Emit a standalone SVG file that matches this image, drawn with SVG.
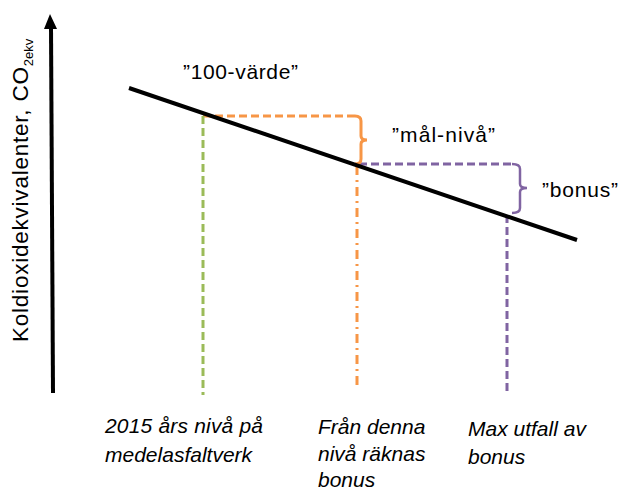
<svg xmlns="http://www.w3.org/2000/svg" width="622" height="492" viewBox="0 0 622 492">
<style>
.t{font-family:"Liberation Sans",Arial,sans-serif;font-size:21px;fill:#000}
.i{font-style:italic}
.g{stroke:#9BBB59;stroke-width:3;fill:none;stroke-dasharray:8 4}
.o{stroke:#F79646;stroke-width:3;fill:none;stroke-dasharray:8 4}
.od{stroke:#F79646;stroke-width:3;fill:none;stroke-dasharray:9 5 2 5}
.p{stroke:#8064A2;stroke-width:3;fill:none;stroke-dasharray:8 4}
.ob{stroke:#F79646;stroke-width:3;fill:none}
.pb{stroke:#8064A2;stroke-width:2.5;fill:none}
</style>
<rect width="622" height="492" fill="#fff"/>
<g id="axis">
<line x1="53" y1="393" x2="51" y2="26" stroke="#000" stroke-width="4"/>
<polygon points="44,29 57,29 50,14" fill="#000"/>
<text class="t" transform="translate(28,342) rotate(-90)"><tspan font-size="22.5" textLength="275" lengthAdjust="spacing">Koldioxidekvivalenter, CO</tspan><tspan font-size="13" dy="5">2ekv</tspan></text>
</g>
<g id="connectors">
<line class="o" x1="203" y1="116" x2="355" y2="116"/>
<line class="p" x1="359" y1="164" x2="512" y2="164"/>
<line class="g" x1="203" y1="116" x2="203" y2="395"/>
<line class="od" x1="357" y1="166" x2="357" y2="388"/>
<line class="p" x1="507" y1="215" x2="507" y2="394"/>
<path class="ob" d="M355,116 Q361,116 361,121 L361,136 Q361,140 367,140 Q361,140 361,144 L361,159 Q361,164 355,164"/>
<path class="pb" d="M512,164 Q520,164 520,169 L520,184 Q520,188 527,188 Q520,188 520,192 L520,208 Q520,213 512,213"/>
</g>
<g id="trend">
<line x1="129" y1="88" x2="577" y2="240" stroke="#000" stroke-width="4"/>
</g>
<g id="label-100">
<text class="t" x="183" y="79" textLength="115" lengthAdjust="spacing">”100-värde”</text>
</g>
<g id="label-mal">
<text class="t" x="392" y="142" textLength="103" lengthAdjust="spacing">”mål-nivå”</text>
</g>
<g id="label-bonus">
<text class="t" x="542" y="197" textLength="76" lengthAdjust="spacing">”bonus”</text>
</g>
<g id="note-2015">
<text class="t i" x="105" y="433"><tspan textLength="158" lengthAdjust="spacing">2015 års nivå på</tspan><tspan x="105" y="462">medelasfaltverk</tspan></text>
</g>
<g id="note-fran">
<text class="t i" x="318" y="434">Från denna<tspan x="318" y="461">nivå räknas</tspan><tspan x="318" y="487">bonus</tspan></text>
</g>
<g id="note-max">
<text class="t i" x="468" y="436">Max utfall av<tspan x="468" y="464">bonus</tspan></text>
</g>
</svg>
